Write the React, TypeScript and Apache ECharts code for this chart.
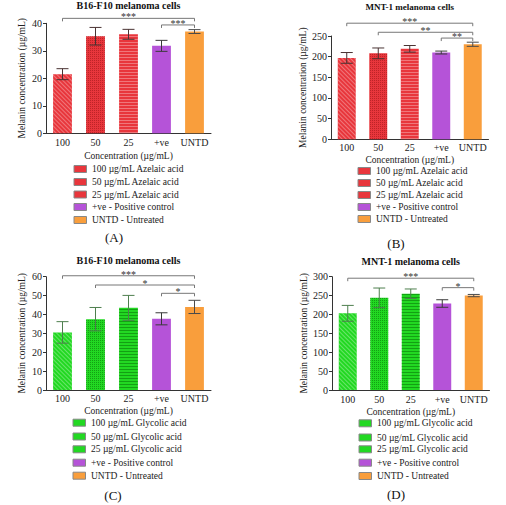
import { useEffect, useRef } from 'react';
import * as echarts from 'echarts';

// Categories shared by every panel
const categories = ['100', '50', '25', '+ve', 'UNTD'];

// Panel A: B16-F10, azelaic acid
const b16AzelaicMean = [21.5, 35.3, 36.0, 31.8, 37.0];
const b16AzelaicErr = [2.0, 3.2, 1.8, 2.0, 0.7];
// Panel B: MNT-1, azelaic acid
const mnt1AzelaicMean = [197, 208, 219, 210, 230];
const mnt1AzelaicErr = [13, 13, 8, 3.5, 5];
// Panel C: B16-F10, glycolic acid
const b16GlycolicMean = [30.5, 37.5, 43.5, 37.7, 44.0];
const b16GlycolicErr = [5.7, 6.2, 6.6, 3.2, 3.5];
// Panel D: MNT-1, glycolic acid
const mnt1GlycolicMean = [203, 244, 255, 229, 250];
const mnt1GlycolicErr = [21, 26, 12.5, 10, 3];

// Significance brackets: [fromIndex, toIndex, level]
const bracketsA = [[0, 4, 41.8], [3, 4, 39.4]];
const starsA = ['***', '***'];
const bracketsB = [[0, 4, 281], [1, 4, 259], [3, 4, 245]];
const starsB = ['***', '**', '**'];
const bracketsC = [[0, 4, 60.5], [1, 4, 55.6], [3, 4, 51.2]];
const starsC = ['***', '*', '*'];
const bracketsD = [[0, 4, 296], [3, 4, 271]];
const starsD = ['***', '*'];

// Axis ranges
const yMaxA = 40, yStepA = 10;
const yMaxB = 250, yStepB = 50;
const yMaxC = 60, yStepC = 10;
const yMaxD = 300, yStepD = 50;

const titleB16 = 'B16-F10 melanoma cells';
const titleMnt1 = 'MNT-1 melanoma cells';
const yName = 'Melanin concentration (µg/mL)';
const xName = 'Concentration (µg/mL)';

const legendAzelaic = [
  '100 µg/mL Azelaic acid',
  '50 µg/mL Azelaic acid',
  '25 µg/mL Azelaic acid',
  '+ve - Positive control',
  'UNTD - Untreated',
];
const legendGlycolic = [
  '100 µg/mL Glycolic acid',
  '50 µg/mL Glycolic acid',
  '25 µg/mL Glycolic acid',
  '+ve - Positive control',
  'UNTD - Untreated',
];

const RED = '#e8363c';
const GREEN = '#22d822';
const PURPLE = '#b553d8';
const ORANGE = '#f99e3c';
const SERIF = '"Liberation Serif", "Times New Roman", serif';

function decalsFor(acid: 'red' | 'green') {
  const light = 'rgba(255,255,255,0.32)';
  const dark = acid === 'red' ? 'rgba(110,0,0,0.35)' : 'rgba(0,90,0,0.45)';
  return [
    { symbol: 'rect', symbolSize: 1, dashArrayX: [1, 0], dashArrayY: [1, 2], rotation: Math.PI / 4, color: light },
    { symbol: 'rect', symbolSize: 1, dashArrayX: [1, 1], dashArrayY: [1, 1], color: dark },
    { symbol: 'rect', symbolSize: 1, dashArrayX: [1, 0], dashArrayY: [1, 2], color: acid === 'red' ? light : dark },
    null,
    null,
  ];
}

export default function App() {
  const ref = useRef<HTMLDivElement>(null);

  useEffect(() => {
    if (!ref.current) return;
    const chart = echarts.init(ref.current, undefined, { renderer: 'svg' });

    const panels = [
      { mean: b16AzelaicMean, err: b16AzelaicErr, br: bracketsA, st: starsA, max: yMaxA, step: yStepA, acid: 'red' as const,
        grid: { left: 46, top: 23.3, width: 165, height: 110 }, title: titleB16, titleSize: 10, titleY: 5.5,
        labelMargin: 4, nameGap: 18, legend: legendAzelaic,
        legendX: 74, legendY: [169, 182, 194.5, 207, 220], tag: '(A)', tagX: 114, tagY: 237 },
      { mean: mnt1AzelaicMean, err: mnt1AzelaicErr, br: bracketsB, st: starsB, max: yMaxB, step: yStepB, acid: 'red' as const,
        grid: { left: 331, top: 36, width: 157.5, height: 103.3 }, title: titleMnt1, titleSize: 9, titleY: 7,
        labelMargin: 3, nameGap: 16, legend: legendAzelaic,
        legendX: 358, legendY: [171, 183, 195, 207, 219], tag: '(B)', tagX: 396, tagY: 243 },
      { mean: b16GlycolicMean, err: b16GlycolicErr, br: bracketsC, st: starsC, max: yMaxC, step: yStepC, acid: 'green' as const,
        grid: { left: 46, top: 276.7, width: 165, height: 113.3 }, title: titleB16, titleSize: 10, titleY: 260.5,
        labelMargin: 3, nameGap: 16, legend: legendGlycolic,
        legendX: 73, legendY: [422.7, 436.5, 449.3, 462.7, 475.7], tag: '(C)', tagX: 113, tagY: 495 },
      { mean: mnt1GlycolicMean, err: mnt1GlycolicErr, br: bracketsD, st: starsD, max: yMaxD, step: yStepD, acid: 'green' as const,
        grid: { left: 332, top: 276.7, width: 157.5, height: 113.3 }, title: titleMnt1, titleSize: 10, titleY: 261,
        labelMargin: 4, nameGap: 17, legend: legendGlycolic,
        legendX: 359, legendY: [423.3, 437.5, 449.3, 462.7, 476], tag: '(D)', tagX: 396, tagY: 494 },
    ];

    const grid: any[] = [];
    const xAxis: any[] = [];
    const yAxis: any[] = [];
    const series: any[] = [];
    const graphic: any[] = [];

    panels.forEach((p, i) => {
      const main = p.acid === 'red' ? RED : GREEN;
      const fills = [main, main, main, PURPLE, ORANGE];
      const decals = decalsFor(p.acid);
      const errColors = p.acid === 'red'
        ? ['#4a3333', '#4a3333', '#4a3333', '#3a3a3a', '#4a4a4a']
        : ['#4e7f4e', '#4e7f4e', '#4e7f4e', '#3a3a3a', '#4a4a4a'];

      grid.push({ ...p.grid, containLabel: false });

      xAxis.push({
        type: 'category', gridIndex: i, data: categories,
        name: xName, nameLocation: 'middle', nameGap: p.nameGap,
        nameTextStyle: { fontFamily: SERIF, fontSize: 9.5, color: '#222' },
        axisLine: { lineStyle: { color: '#333', width: 1 } },
        axisTick: { alignWithLabel: true, length: 3, lineStyle: { color: '#333' } },
        axisLabel: { interval: 0, fontFamily: SERIF, fontSize: 10, color: '#222', margin: p.labelMargin },
      });

      yAxis.push({
        type: 'value', gridIndex: i, min: 0, max: p.max, interval: p.step,
        name: yName, nameLocation: 'middle', nameGap: 19,
        nameTextStyle: { fontFamily: SERIF, fontSize: 9.5, color: '#222' },
        axisLine: { show: true, lineStyle: { color: '#333', width: 1 } },
        axisTick: { show: true, length: 3, lineStyle: { color: '#333' } },
        axisLabel: { fontFamily: SERIF, fontSize: 10, color: '#222', margin: 4 },
        splitLine: { show: false },
      });

      series.push({
        type: 'bar', xAxisIndex: i, yAxisIndex: i, barWidth: '57%',
        data: p.mean.map((v, k) => ({
          value: v,
          itemStyle: decals[k] ? { color: fills[k], decal: decals[k] } : { color: fills[k] },
        })),
      });

      series.push({
        type: 'custom', xAxisIndex: i, yAxisIndex: i, z: 5, clip: false,
        data: p.mean.map((v, k) => [k, v - p.err[k], v + p.err[k]]),
        renderItem: (params: any, api: any) => {
          const x = api.value(0);
          const lo = api.coord([x, api.value(1)]);
          const hi = api.coord([x, api.value(2)]);
          const half = 6;
          const stroke = errColors[params.dataIndex];
          const st = { stroke, lineWidth: 1 };
          return {
            type: 'group',
            children: [
              { type: 'line', shape: { x1: lo[0], y1: lo[1], x2: hi[0], y2: hi[1] }, style: st },
              { type: 'line', shape: { x1: hi[0] - half, y1: hi[1], x2: hi[0] + half, y2: hi[1] }, style: st },
              { type: 'line', shape: { x1: lo[0] - half, y1: lo[1], x2: lo[0] + half, y2: lo[1] }, style: st },
            ],
          };
        },
      });

      series.push({
        type: 'custom', xAxisIndex: i, yAxisIndex: i, z: 6, clip: false,
        data: p.br,
        renderItem: (params: any, api: any) => {
          const a = api.coord([api.value(0), api.value(2)]);
          const b = api.coord([api.value(1), api.value(2)]);
          return {
            type: 'group',
            children: [
              {
                type: 'polyline',
                shape: { points: [[a[0], a[1] + 3], [a[0], a[1]], [b[0], b[1]], [b[0], b[1] + 3]] },
                style: { stroke: '#777', lineWidth: 1, fill: 'none' },
              },
              {
                type: 'text', x: (a[0] + b[0]) / 2, y: a[1] - 1.5,
                style: {
                  text: p.st[params.dataIndex], fill: '#333', fontFamily: SERIF, fontSize: 10,
                  align: 'center', verticalAlign: 'middle',
                },
              },
            ],
          };
        },
      });

      // panel title
      graphic.push({
        type: 'text', x: p.grid.left + p.grid.width / 2, y: p.titleY,
        style: {
          text: p.title, fill: '#111', fontFamily: SERIF, fontSize: p.titleSize, fontWeight: 'bold',
          align: 'center', verticalAlign: 'middle',
        },
      });

      // legend swatches and labels
      p.legend.forEach((label, k) => {
        const cy = p.legendY[k];
        graphic.push({
          type: 'rect', shape: { x: p.legendX, y: cy - 3.5, width: 12.5, height: 7 },
          style: { fill: fills[k], stroke: '#888', lineWidth: 1 },
        });
        graphic.push({
          type: 'text', x: p.legendX + 18, y: cy,
          style: {
            text: label, fill: '#222', fontFamily: SERIF, fontSize: 9.5,
            align: 'left', verticalAlign: 'middle',
          },
        });
      });

      graphic.push({
        type: 'text', x: p.tagX, y: p.tagY,
        style: {
          text: p.tag, fill: '#111', fontFamily: SERIF, fontSize: 13,
          align: 'center', verticalAlign: 'middle',
        },
      });
    });

    chart.setOption({
      animation: false,
      backgroundColor: '#ffffff',
      grid, xAxis, yAxis, series, graphic,
    });

    return () => chart.dispose();
  }, []);

  return (
    <div
      ref={ref}
      style={{ position: 'fixed', left: 0, top: 0, width: 506, height: 505, background: '#fff' }}
    />
  );
}
